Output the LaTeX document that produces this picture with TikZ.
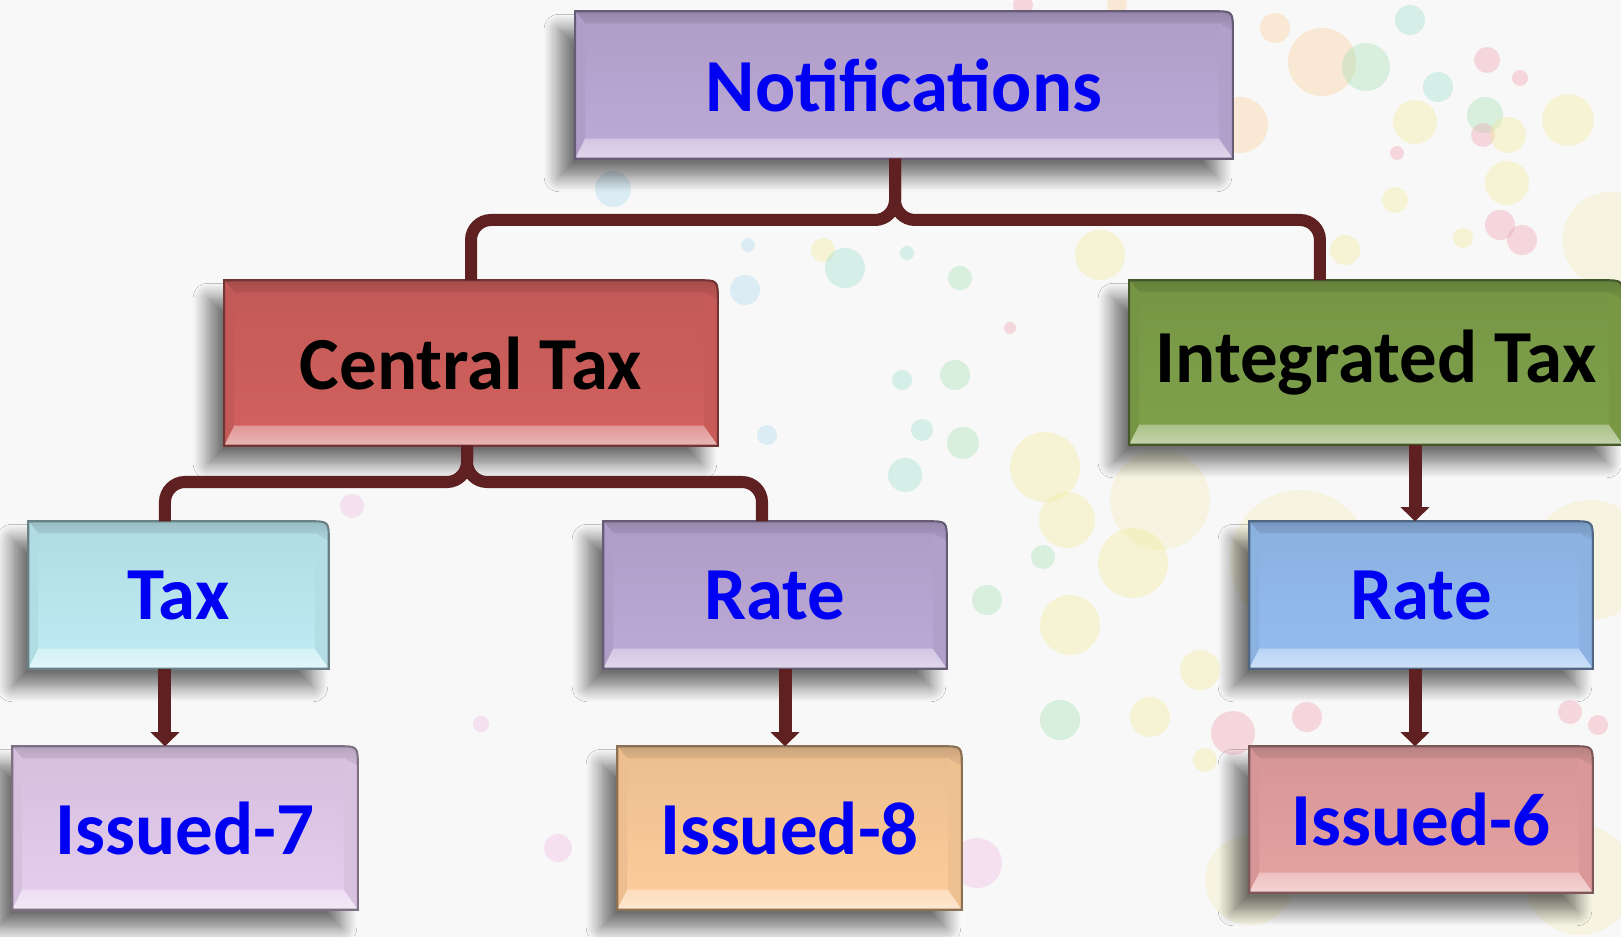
\documentclass[tikz,border=0pt]{standalone}
\usepackage{fontspec}
\setmainfont{Carlito}
\usetikzlibrary{arrows.meta,backgrounds,shadows.blur}

\definecolor{pageC}{HTML}{F8F8F8}
\definecolor{linkC}{HTML}{5E2020}
\definecolor{textC}{HTML}{0000F2}
\definecolor{notifC}{HTML}{BBA8D5}
\definecolor{centralC}{HTML}{D0605D}
\definecolor{integC}{HTML}{7EA04A}
\definecolor{taxC}{HTML}{BDEAF2}
\definecolor{rateaC}{HTML}{BBA8D5}
\definecolor{ratebC}{HTML}{93BCEE}
\definecolor{issaC}{HTML}{E4CCEC}
\definecolor{issbC}{HTML}{FCCB99}
\definecolor{isscC}{HTML}{E5A0A0}
% paint splash colours
\definecolor{spY}{HTML}{F3EC9E}
\definecolor{spG}{HTML}{A6E2B2}
\definecolor{spT}{HTML}{A3E0D0}
\definecolor{spP}{HTML}{F0A4B4}
\definecolor{spO}{HTML}{FAD29E}
\definecolor{spB}{HTML}{B0DCF0}
\definecolor{spM}{HTML}{F2BCE4}

\begin{document}
\begin{tikzpicture}[x=0.01cm,y=0.01cm,
  box/.style={inner sep=0pt, text=textC, font=\bfseries\fontsize{21.3}{26}\selectfont},
  link/.style={draw=linkC, line width=0.12cm, rounded corners=0.2cm},
  arr/.style={draw=linkC, line width=0.13cm, -{Triangle[width=0.28cm,length=0.14cm]}},
  splash/.style={fill opacity=0.4}]

  \useasboundingbox (0,0) rectangle (1621,-937);

  % the boxes, faces are put on the background layer further down
  \node[box, minimum width=6.56cm, minimum height=1.46cm] (notif) at (904,-85) {Notifications};
  \node[box, text=black, minimum width=4.92cm, minimum height=1.64cm] (central) at (471,-363) {Central Tax};
  \node[box, text=black, minimum width=4.92cm, minimum height=1.63cm] (integ) at (1376,-362.5) {Integrated Tax};

  \node[box, minimum width=2.99cm, minimum height=1.46cm] (tax) at (178.5,-595) {Tax};
  \node[box, minimum width=3.42cm, minimum height=1.46cm] (ratea) at (775,-595) {Rate};
  \node[box, minimum width=3.42cm, minimum height=1.46cm] (rateb) at (1421,-595) {Rate};

  \node[box, minimum width=3.44cm, minimum height=1.62cm] (issa) at (185,-828) {Issued-7};
  \node[box, minimum width=3.43cm, minimum height=1.62cm] (issb) at (789.5,-828) {Issued-8};
  \node[box, minimum width=3.42cm, minimum height=1.45cm] (issc) at (1421,-819.5) {Issued-6};

  % forks
  \coordinate (forka) at (895,-220);
  \coordinate (igleg) at ([xshift=-0.56cm]integ.north);
  \draw[link] (notif.south -| forka) -- (forka) -- (forka -| central.north) -- (central.north);
  \draw[link] (notif.south -| forka) -- (forka) -- (forka -| igleg) -- (igleg);

  \coordinate (forkb) at (467,-482);
  \coordinate (taxleg) at ([xshift=-0.135cm]tax.north);
  \coordinate (rateleg) at ([xshift=-0.13cm]ratea.north);
  \draw[link] (central.south -| forkb) -- (forkb) -- (forkb -| taxleg) -- (taxleg);
  \draw[link] (central.south -| forkb) -- (forkb) -- (forkb -| rateleg) -- (rateleg);

  % arrows
  \coordinate (axa) at ([xshift=-0.135cm]tax.south);
  \coordinate (axb) at ([xshift=0.1cm]ratea.south);
  \coordinate (axc) at ([xshift=-0.06cm]rateb.north);
  \draw[arr] (axa) -- (axa |- issa.north);
  \draw[arr] (axb) -- (axb |- issb.north);
  \draw[arr] (axc |- integ.south) -- (axc);
  \draw[arr] (axc |- rateb.south) -- (axc |- issc.north);

  \begin{scope}[on background layer]
    \fill[pageC] (0,0) rectangle (1621,-937);

    % faint wash on the right
    \foreach \x/\y/\r in {1300/560/70, 1590/560/60, 1580/880/55, 1250/880/45, 1160/500/50, 1610/240/48}
      \fill[spY, fill opacity=0.25] (\x,-\y) circle[radius=\r];

    % paint splashes
    \foreach \x/\y/\r/\c in {1240/125/28/spO,
      1275/28/15/spO, 1322/62/34/spO, 1366/67/24/spG, 1410/20/15/spT, 1487/60/13/spP,
      1520/78/8/spP, 1438/87/15/spT, 1415/122/22/spY, 1485/115/18/spG, 1483/135/12/spP,
      1508/135/18/spY, 1568/120/26/spY, 1397/153/7/spP, 1507/183/22/spY, 1395/200/13/spY,
      1500/225/15/spP, 1522/240/15/spP, 1345/250/15/spY, 1463/238/10/spY, 1100/255/25/spY,
      1023/5/10/spP, 1117/5/10/spO, 613/189/18/spB,
      823/250/12/spY, 845/268/20/spT, 748/245/7/spB, 907/253/7/spT, 960/278/12/spG,
      745/290/15/spB, 1010/328/6/spP, 902/380/10/spT, 955/375/15/spG, 922/430/11/spT,
      963/443/16/spG, 905/475/17/spT, 767/435/10/spB, 1045/467/35/spY,
      987/600/15/spG, 1070/625/30/spY, 1043/557/12/spG, 1067/520/28/spY, 1133/563/35/spY,
      1060/720/20/spG, 1150/717/20/spY, 1200/670/20/spY, 1205/760/12/spY, 1233/733/22/spP,
      977/863/25/spM, 352/506/12/spM, 481/724/8/spM, 558/848/14/spM,
      1307/717/15/spP, 1570/712/12/spP, 1598/725/10/spP}
      \fill[\c, splash] (\x,-\y) circle[radius=\r];

    % bevelled faces
    \foreach \n/\c in {notif/notifC, central/centralC, integ/integC, tax/taxC, ratea/rateaC,
      rateb/ratebC, issa/issaC, issb/issbC, issc/isscC} {
      \path[fill=\c, blur shadow={shadow xshift=-0.16cm, shadow yshift=-0.18cm,
          shadow blur radius=0.15cm, shadow blur steps=12, shadow opacity=55}]
        (\n.south west) -- (\n.north west) -- ([xshift=-0.2cm]\n.north east)
        .. controls (\n.north east) .. ([yshift=-0.2cm]\n.north east) -- (\n.south east) -- cycle;
      \coordinate (a) at ([shift={(0.1cm,-0.12cm)}]\n.north west);
      \coordinate (b) at ([shift={(-0.14cm,-0.12cm)}]\n.north east);
      \coordinate (c) at ([shift={(-0.14cm,0.2cm)}]\n.south east);
      \coordinate (d) at ([shift={(0.1cm,0.2cm)}]\n.south west);
      \shade[top color=\c!94!black, bottom color=\c] (a) rectangle (c);
      \shade[top color=\c!80!black, bottom color=\c!92!black]
        (\n.north west) -- ([xshift=-0.2cm]\n.north east)
        .. controls (\n.north east) .. ([yshift=-0.2cm]\n.north east) -- (b) -- (a) -- cycle;
      \fill[\c!94!black] (\n.north west) -- (a) -- (d) -- (\n.south west) -- cycle;
      \fill[\c!95!black] ([yshift=-0.2cm]\n.north east) -- (\n.south east) -- (c) -- (b) -- cycle;
      \shade[top color=\c!65!white, bottom color=\c!45!white]
        (\n.south west) -- (d) -- (c) -- (\n.south east) -- cycle;
      \draw[\c!55!black, line width=0.6pt]
        (\n.south west) -- (\n.north west) -- ([xshift=-0.2cm]\n.north east)
        .. controls (\n.north east) .. ([yshift=-0.2cm]\n.north east) -- (\n.south east) -- cycle;
    }
  \end{scope}

\end{tikzpicture}
\end{document}
